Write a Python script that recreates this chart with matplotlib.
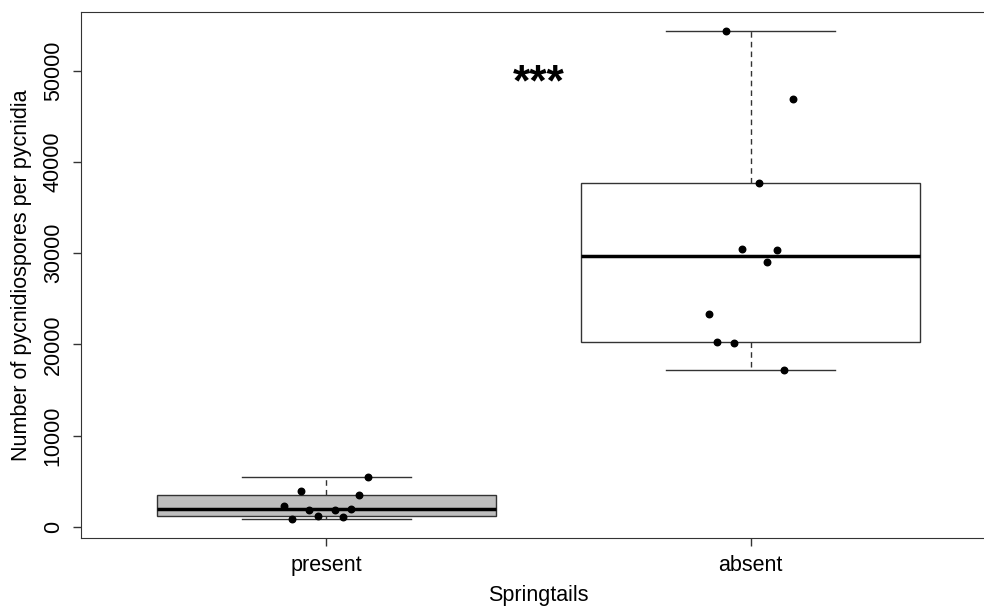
import numpy as np
import matplotlib
matplotlib.use("Agg")
import matplotlib.pyplot as plt

plt.rcParams['font.family'] = ['Liberation Sans', 'DejaVu Sans']

# values
groups = ['present', 'absent']
present_vals = [5450, 3950, 3510, 2230, 1830, 1880, 1940, 1240, 1130, 910]
present_jitter = [0.099, -0.060, 0.077, -0.100, -0.040, 0.019, 0.059, -0.020, 0.038, -0.081]
absent_vals = [54300, 46900, 37720, 30450, 30370, 29020, 23320, 20285, 20100, 17180]
absent_jitter = [-0.058, 0.101, 0.021, -0.019, 0.062, 0.040, -0.098, -0.080, -0.040, 0.080]
yticks = [0, 10000, 20000, 30000, 40000, 50000]


def fivenum(v):
    # Tukey hinges, like R's boxplot
    v = np.sort(np.asarray(v, dtype=float))
    n = len(v)
    n4 = np.floor((n + 3) / 2) / 2
    d = np.array([1, n4, (n + 1) / 2, n + 1 - n4, n]) - 1
    return 0.5 * (v[np.floor(d).astype(int)] + v[np.ceil(d).astype(int)])


stats = []
for name, vals in zip(groups, [present_vals, absent_vals]):
    lo, q1, med, q3, hi = fivenum(vals)
    stats.append(dict(label=name, whislo=lo, q1=q1, med=med, q3=q3, whishi=hi, fliers=[]))

fig = plt.figure(figsize=(9.84, 6.06), dpi=100)
ax = fig.add_axes([80.5 / 984, 1 - 538 / 606, 916 / 984, 526 / 606])

bp = ax.bxp(stats, positions=[1, 2], widths=0.8, patch_artist=True, showfliers=False,
            boxprops=dict(linewidth=1, edgecolor='#333333'),
            whiskerprops=dict(linestyle=(0, (4, 3)), linewidth=1, color='#333333'),
            capprops=dict(linewidth=1, color='#333333'),
            medianprops=dict(linewidth=2.5, color='black'),
            capwidths=0.4)
bp['boxes'][0].set_facecolor('#bebebe')
bp['boxes'][1].set_facecolor('white')

for pos, vals, jit in zip([1, 2], [present_vals, absent_vals], [present_jitter, absent_jitter]):
    ax.scatter(pos + np.array(jit), vals, s=22, color='black', zorder=5)

ax.text(1.5, 48500, '***', fontsize=32, fontweight='bold', ha='center', va='center')

ax.set_xlim(0.42, 2.58)
ax.set_ylim(-1226, 56436)
ax.set_xticks([1, 2])
ax.set_xticklabels(groups, fontsize=15.5)
ax.set_yticks(yticks)
ax.set_yticklabels([str(t) for t in yticks], fontsize=15.5, rotation=90, va='center')
ax.tick_params(length=6, width=1, color='#333333', pad=6)
for s in ax.spines.values():
    s.set_color('#333333')

ax.set_xlabel('Springtails', fontsize=15.5, labelpad=7)
ax.set_ylabel('Number of pycnidiospores per pycnidia', fontsize=15.5, labelpad=8)

fig.savefig('out.png', dpi=100)
